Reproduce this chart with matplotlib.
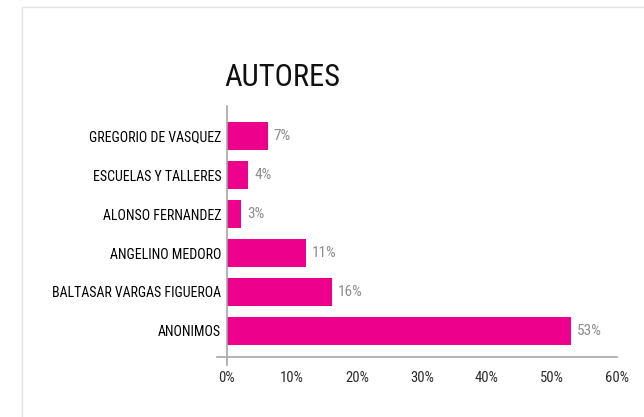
import matplotlib
matplotlib.use("Agg")
import matplotlib.pyplot as plt
from matplotlib.patches import Rectangle
from matplotlib.ticker import FuncFormatter

# data, bottom bar first
autores = ["ANONIMOS", "BALTASAR VARGAS FIGUEROA", "ANGELINO MEDORO",
           "ALONSO FERNANDEZ", "ESCUELAS Y TALLERES", "GREGORIO DE VASQUEZ"]
porcentajes = [53.0, 16.2, 12.2, 2.2, 3.3, 6.3]
etiquetas = ["53%", "16%", "11%", "3%", "4%", "7%"]
xticks = [0, 10, 20, 30, 40, 50, 60]

BAR_COLOR = "#EC008C"
plt.rcParams["font.family"] = ["Roboto Condensed", "Roboto", "DejaVu Sans"]

fig = plt.figure(figsize=(6.44, 4.17), dpi=100, facecolor="white")

# light frame of the chart area
fig.patches.append(Rectangle((22 / 644, -0.1), 1.2, (417 - 7) / 417 + 0.1,
                             transform=fig.transFigure, fill=False,
                             edgecolor="#e3e3e3", lw=1.0))

ax = fig.add_axes([217 / 644, 51.7 / 417, 400 / 644, 259.3 / 417])
y = list(range(len(autores)))
ax.barh(y, porcentajes, height=0.72, color=BAR_COLOR, zorder=2)

for yi, v, lab in zip(y, porcentajes, etiquetas):
    ax.text(v + 0.9, yi, lab, va="center", ha="left", fontsize=11,
            color="#8c8c8c")

ax.set_xlim(-1.5, 60)
ax.set_ylim(-0.88, 5.77)
ax.set_yticks(y)
ax.set_yticklabels(autores, fontsize=8.6, color="#2b2b2b")
ax.set_xticks(xticks)
ax.xaxis.set_major_formatter(FuncFormatter(lambda v, p: f"{v:.0f}%"))
ax.tick_params(axis="x", length=0, pad=10, labelsize=10.5, labelcolor="#2b2b2b")
ax.tick_params(axis="y", length=0, pad=4)

for s in ["top", "right"]:
    ax.spines[s].set_visible(False)
ax.spines["left"].set_position(("data", 0))
ax.spines["bottom"].set_position(("data", -0.67))
ax.spines["left"].set_color("#a6a6a6")
ax.spines["bottom"].set_color("#a6a6a6")
ax.spines["left"].set_linewidth(1.2)
ax.spines["bottom"].set_linewidth(1.2)

fig.text(282 / 644, 1 - 77 / 417, "AUTORES", ha="center", va="center",
         fontsize=22, color="#111111")

fig.savefig("out.png", dpi=100, facecolor="white")
